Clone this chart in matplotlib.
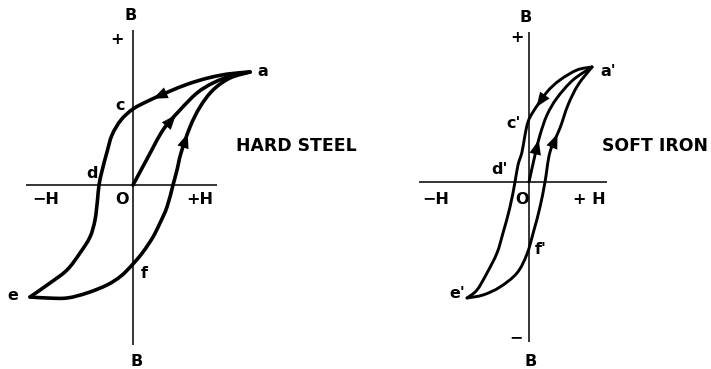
import matplotlib
matplotlib.use('Agg')
import matplotlib.pyplot as plt
from matplotlib.path import Path
from matplotlib.patches import PathPatch

# ---- hard steel loop (H, B in arbitrary units, origin at O) ----
steel_down_h = [117, 95, 75, 55, 35, 15, 0, -12, -21, -26, -31, -34, -35.5, -38, -43, -53, -66, -83, -103]
steel_down_b = [113, 111, 107, 101, 93, 84, 76, 65, 50, 33, 14, 0, -15, -35, -52, -68, -85, -98, -112]
steel_up_h = [-103, -86, -66, -46, -26, -12, 0, 10, 20, 27, 34, 40, 44, 48, 57, 67, 80, 97, 117]
steel_up_b = [-112, -113, -113, -108, -100, -91, -79, -67, -52, -38, -22, 0, 15, 32, 58, 78, 95, 107, 113]
steel_init_h = [0, 14, 30, 47, 64, 80, 100, 117]
steel_init_b = [0, 26, 55, 75, 92, 102, 110, 113]

# ---- soft iron loop ----
iron_down_h = [63, 48, 31, 18, 4, -1, -4, -7, -11, -14, -19, -26, -32, -42, -52, -62]
iron_down_b = [115, 112, 102, 90, 70, 60, 47, 30, 17, 0, -25, -51, -71, -91, -108, -116]
iron_up_h = [-62, -46, -29, -12, -2, 5, 11, 16, 21, 31, 39, 49, 63]
iron_up_b = [-116, -113, -105, -91, -72, -48, -25, 0, 30, 54, 77, 97, 115]
iron_init_h = [0, 6, 11, 18, 28, 44, 63]
iron_init_b = [0, 27, 47, 67, 84, 102, 115]


def smooth_path(xs, ys):
    # Catmull-Rom through the read points, drawn as cubic Bezier segments
    pts = list(zip(xs, ys))
    ext = [pts[0]] + pts + [pts[-1]]
    verts = [pts[0]]
    codes = [Path.MOVETO]
    for i in range(1, len(ext) - 2):
        p0, p1, p2, p3 = ext[i - 1], ext[i], ext[i + 1], ext[i + 2]
        c1 = (p1[0] + (p2[0] - p0[0]) / 6, p1[1] + (p2[1] - p0[1]) / 6)
        c2 = (p2[0] - (p3[0] - p1[0]) / 6, p2[1] - (p3[1] - p1[1]) / 6)
        verts += [c1, c2, p2]
        codes += [Path.CURVE4] * 3
    return Path(verts, codes)


def arrow_head(ax, xs, ys, i):
    # filled head pointing from point i toward point i+1
    x0, y0 = xs[i], ys[i]
    x1, y1 = xs[i + 1], ys[i + 1]
    xm, ym = x0 + 0.75 * (x1 - x0), y0 + 0.75 * (y1 - y0)
    ax.annotate('', xy=(xm, ym), xytext=(x0, y0),
                arrowprops=dict(arrowstyle='-|>,head_length=0.75,head_width=0.3',
                                color='k', lw=0, mutation_scale=14,
                                shrinkA=0, shrinkB=0))


def draw_panel(ax, down, up, init, lw, axes_ext, labels, arrows, name):
    hmin, hmax, bmin, bmax = axes_ext
    ax.plot([hmin, hmax], [0, 0], color='k', lw=1.1, solid_capstyle='butt')
    ax.plot([0, 0], [bmin, bmax], color='k', lw=1.1, solid_capstyle='butt')
    for h, b in (down, up, init):
        ax.add_patch(PathPatch(smooth_path(h, b), fill=False, edgecolor='k',
                               lw=lw, joinstyle='round', capstyle='round'))
    for (h, b), i in zip((down, init, up), arrows):
        arrow_head(ax, h, b, i)
    for x, y, s in labels:
        ax.text(x, y, s, ha='center', va='center', fontsize=11.5,
                fontweight='bold', color='k')
    ax.text(name[0], name[1], name[2], ha='center', va='center', fontsize=12.4,
            fontweight='bold', color='k')
    ax.set_aspect('equal')
    ax.axis('off')


fig = plt.figure(figsize=(7.11, 3.69), dpi=100)

ax1 = fig.add_axes([0, 0, 360 / 711, 1])
ax1.set_xlim(-133, 227)
ax1.set_ylim(-184, 185)
draw_panel(
    ax1,
    (steel_down_h, steel_down_b), (steel_up_h, steel_up_b), (steel_init_h, steel_init_b),
    2.6, (-107, 84, -160, 155),
    [(-2, 169, 'B'), (-16, 146, '+'), (130, 114, 'a'), (-13, 79, 'c'),
     (-41, 11, 'd'), (-11, -14, 'O'), (-87, -14, '\u2212H'), (67, -14, '+H'),
     (11, -88, 'f'), (-120, -111, 'e'), (4, -176, 'B')],
    (4, 2, 13),
    (163, 39, 'HARD STEEL'),
)

ax2 = fig.add_axes([360 / 711, 0, 351 / 711, 1])
ax2.set_xlim(-169, 182)
ax2.set_ylim(-187, 182)
draw_panel(
    ax2,
    (iron_down_h, iron_down_b), (iron_up_h, iron_up_b), (iron_init_h, iron_init_b),
    2.1, (-110, 78, -160, 150),
    [(-3, 164, 'B'), (-12, 145, '+'), (79, 110, "a'"), (-15, 58, "c'"),
     (-30, 12, "d'"), (-7, -17, 'O'), (-93, -18, '\u2212H'), (60, -18, '+ H'),
     (12, -67, "f'"), (-72, -112, "e'"), (-13, -156, '\u2212'), (2, -180, 'B')],
    (3, 1, 8),
    (126, 36, 'SOFT IRON'),
)

fig.savefig('out.png', dpi=100)
